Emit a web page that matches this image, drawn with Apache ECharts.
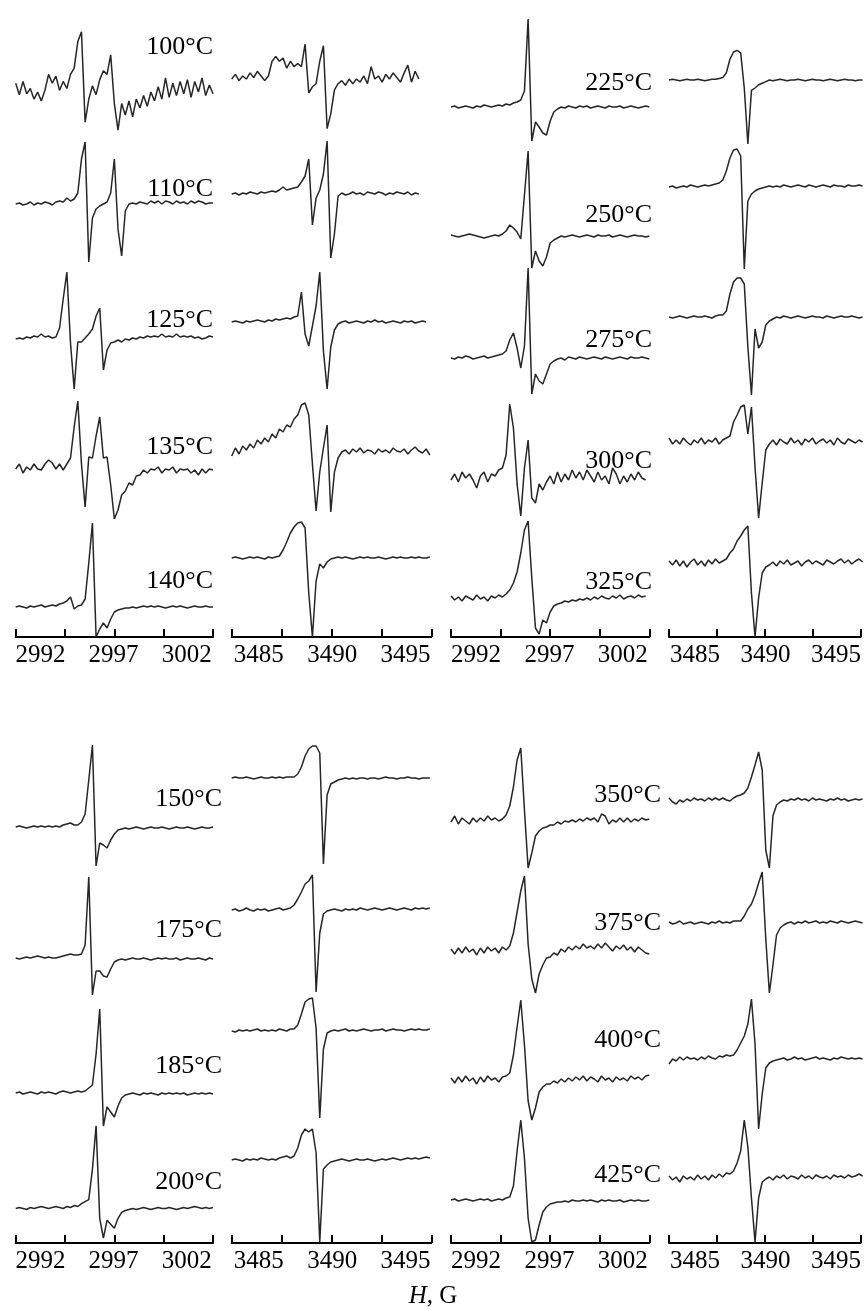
<!DOCTYPE html>
<html>
<head>
<meta charset="utf-8">
<script src="https://cdn.jsdelivr.net/npm/echarts@6/dist/echarts.min.js"></script>
<style>
  html, body { margin: 0; background: #fff; }
  #chart { width: 864px; height: 1307px; }
</style>
</head>
<body>
<div id="chart"></div>
<script>
// field ranges (G) and tick labels
const lowField = [2990.3, 3003.8]
const highField = [3483.15, 3496.75]
const fieldStep = 0.25
const lowTicks = [2992, 2997, 3002]
const highTicks = [3485, 3490, 3495]

// temperature labels
const tempsTopA = ['100°C', '110°C', '125°C', '135°C', '140°C']
const tempsTopB = ['225°C', '250°C', '275°C', '300°C', '325°C']
const tempsBotA = ['150°C', '175°C', '185°C', '200°C']
const tempsBotB = ['350°C', '375°C', '400°C', '425°C']

// EPR signals, sampled every 0.25 G from the left end of each field range
// low field, 100-140 °C
const s100a = [6,-7,8,-6,0,-12,-4,-14,-2,16,6,14,-2,8,0,16,23,53,64,-38,-12,3,-7,10,20,16,38,-17,-47,-17,-30,-14,-32,-12,-22,-8,-20,-4,-14,2,-12,12,-10,6,-8,8,-6,10,-10,8,-4,12,-8,4,-6]
const s110a = [0,1,-1,0,2,-1,1,0,2,1,-1,2,3,2,6,3,5,11,45,62,-58,-14,-5,-2,0,2,11,45,-25,-52,-7,0,1,0,2,1,0,3,1,3,0,3,2,0,3,1,2,0,3,1,3,2,0,1,1]
const s125a = [-1,0,-1,1,0,2,1,4,1,2,0,1,10,39,66,-5,-51,-4,-4,0,4,9,22,30,-32,-12,-5,-4,-2,-4,-1,-2,0,-1,1,0,2,1,2,1,4,1,2,1,4,1,2,1,2,0,1,-1,0,2,1]
const s135a = [0,5,-4,2,-1,5,0,-1,5,9,6,0,5,-1,5,11,42,68,5,-38,12,11,33,52,11,12,-16,-50,-41,-26,-22,-14,-16,-7,-6,-1,-4,0,-1,2,-4,0,-1,2,-4,0,-1,0,-4,-1,-6,0,-4,0,-1]
const s140a = [0,1,0,-1,1,0,1,2,0,1,2,1,3,4,6,10,-2,1,2,8,44,84,-30,-22,-16,-21,-12,-5,-3,-2,-1,-1,0,-1,0,1,0,1,0,1,0,-1,0,1,0,1,0,-1,0,1,0,0,1,0,0]
// high field, 100-140 °C
const s100b = [-2,4,-4,2,-2,6,0,8,2,-4,2,21,27,21,25,12,21,14,18,14,43,-20,-12,-8,21,41,-66,-47,-16,-8,-4,-10,-2,-8,-2,-6,2,-8,14,-2,2,-6,4,-2,6,0,-6,6,16,-6,8,-2]
const s110b = [0,1,-1,1,0,2,1,0,2,1,2,3,2,4,7,4,5,6,7,12,18,35,-31,-4,4,20,53,-64,-40,-2,1,-1,0,2,0,1,-1,2,1,0,2,1,-1,1,0,2,1,0,2,-1,1,0]
const s125b = [0,1,0,-1,1,0,1,2,1,0,2,1,3,2,3,4,3,5,6,30,-12,-24,-4,16,50,-29,-67,-25,-8,-2,0,1,-1,0,1,0,-1,1,0,2,0,1,-1,0,1,0,-1,1,0,1,-1,0,1,0]
const s135b = [-4,4,-2,6,2,8,4,12,8,14,10,18,14,23,20,27,25,33,37,47,49,37,-12,-59,-20,4,27,-60,-20,-6,0,2,-2,3,0,4,-1,2,1,-2,3,0,2,-1,4,1,0,3,-2,2,5,1,-1,3,-3]
const s140b = [0,1,0,-1,0,1,0,1,0,-1,1,0,1,2,8,16,25,31,35,36,30,-35,-79,-23,-6,-10,-4,-1,0,1,0,1,0,-1,0,1,0,1,0,0,1,0,-1,0,1,0,1,0,0,1,0,1,0,0,1]
// low field, 225-325 °C
const s225c = [0,1,-1,0,1,0,-1,1,0,2,1,0,1,2,1,3,2,4,5,7,16,88,-34,-15,-20,-26,-28,-14,-5,-2,0,-1,1,0,-1,1,0,1,-1,0,1,0,-1,1,0,0,1,-1,0,1,0,-1,0,1,0]
const s250c = [1,0,-1,0,1,2,1,0,-1,-2,-1,0,1,0,2,5,11,8,4,-3,41,85,-32,-15,-25,-30,-21,-7,-4,-2,0,-1,0,1,0,-1,0,1,0,-1,1,0,0,1,-1,0,1,0,-1,0,1,0,0,-1,0]
const s275c = [0,-1,1,0,2,1,-1,0,1,2,0,1,2,3,4,7,18,25,10,-10,12,90,-36,-16,-23,-26,-16,-6,-3,-1,0,-2,1,0,-1,1,0,-1,0,1,0,-1,1,0,-1,0,1,0,-1,1,0,0,1,0,-1]
const s300c = [-2,4,-4,6,0,4,-2,-10,2,6,-4,4,2,8,10,23,74,50,-6,-38,10,38,-20,-25,-6,-12,-4,2,-6,6,-4,4,-2,8,0,6,-2,8,2,-4,6,-2,2,-6,10,4,-6,2,-4,4,-2,6,0,-2]
const s325c = [2,-2,1,-3,2,0,-2,3,-1,1,-3,2,0,3,1,4,8,15,26,45,68,77,20,-30,-36,-22,-25,-14,-8,-6,-5,-3,-4,-2,-3,-1,-2,0,-2,1,-1,2,0,-1,2,0,3,-1,1,2,0,3,1,2]
// high field, 225-325 °C
const s225d = [0,1,0,-1,0,1,0,0,1,0,-1,0,1,1,2,3,9,26,35,37,34,-10,-80,-13,-10,-6,-4,-2,0,-1,0,1,0,-1,0,0,1,0,-1,0,1,0,0,-1,0,1,0,-1,0,1,0,0,-1,0,0]
const s250d = [0,1,-1,0,1,0,2,1,0,1,2,1,2,3,4,7,16,29,37,38,31,-82,-14,-7,-4,-2,-1,0,1,0,1,0,2,1,0,1,2,1,0,2,1,0,1,2,1,0,2,1,1,0,2,1,1,2,1]
const s275d = [0,-1,0,1,0,-1,0,1,0,0,1,0,-1,1,2,2,6,23,35,39,39,33,-30,-78,-12,-31,-25,-8,-4,-2,0,-1,1,0,-1,0,1,0,-1,0,1,0,0,-1,1,0,-1,0,1,0,0,1,0,-1,0]
const s300d = [4,-2,2,-2,4,0,-3,2,-1,4,-2,2,0,4,-2,2,4,6,20,27,35,37,8,35,-25,-76,-41,-8,-2,2,-3,3,0,-2,4,-1,2,-3,3,0,4,-2,1,3,-1,2,-3,4,0,-2,3,1,-1,2,0]
const s325d = [2,-2,3,-3,2,-4,1,4,-2,2,-3,3,-1,4,0,2,4,10,14,22,27,33,37,-30,-74,-35,-10,-4,-2,1,-3,2,-1,3,-2,0,2,-3,1,3,-1,2,0,-2,3,1,-1,2,4,0,3,-1,2,4,1]
// low field, 150-200 °C
const s150a = [0,1,0,-1,0,1,0,1,0,1,0,1,0,2,3,4,2,2,5,13,47,82,-39,-16,-18,-21,-13,-7,-3,-2,-1,-2,-1,0,-1,-2,-1,0,-1,-1,0,-1,-2,-1,0,-1,-1,0,-1,-2,-1,0,-1,-1,0]
const s175a = [0,-1,0,1,0,1,2,1,0,1,0,0,1,2,3,4,3,3,4,13,81,-37,-13,-13,-18,-19,-11,-4,-2,-1,-2,-1,0,-1,-1,0,-1,-2,-1,0,-1,0,-1,-1,0,-2,-1,0,-1,-1,0,-1,-2,0,-1]
const s185a = [0,1,-1,0,1,0,-1,1,0,1,0,-1,1,2,1,0,1,2,1,2,5,8,39,84,-33,-14,-19,-24,-13,-5,-2,-1,0,-1,-2,0,-1,0,-1,-2,0,-1,0,-1,0,-1,0,-2,-1,0,-1,0,-1,0,-1]
const s200a = [0,1,0,-1,1,0,1,2,1,0,1,2,1,0,2,1,3,2,5,7,9,40,84,-10,-30,-12,-16,-20,-10,-4,-2,-1,0,-1,0,1,0,-1,0,1,0,0,1,0,-1,0,1,0,1,2,1,0,1,0,1]
// high field, 150-200 °C
const s150b = [0,1,0,0,1,0,-1,0,1,0,0,1,0,1,0,1,1,1,4,11,22,29,32,32,25,-86,-17,-6,-4,-2,-1,0,-1,0,-1,0,0,-1,0,0,-1,0,1,0,0,-1,0,0,1,0,0,-1,0,0,0]
const s175b = [0,1,-1,0,2,0,-1,1,0,1,-1,0,1,2,0,1,2,5,11,18,26,29,35,-82,-23,-4,-1,0,1,0,-1,1,0,1,0,2,1,0,1,2,1,0,1,2,1,0,1,2,1,0,2,1,2,1,2]
const s185b = [0,-1,1,0,1,0,1,2,0,1,0,1,0,2,1,0,2,2,6,17,29,32,33,3,-87,-18,-2,0,1,0,1,2,0,1,0,1,2,1,0,1,1,2,0,1,2,1,1,0,1,2,1,2,1,1,2]
const s200b = [0,1,0,-1,1,0,1,0,2,1,0,1,0,2,3,4,2,4,12,25,31,28,31,7,-82,-9,-5,-2,-1,0,1,0,-1,0,1,0,0,1,0,-1,0,1,0,1,2,1,0,1,2,1,2,1,2,3,2]
// low field, 350-425 °C
const s350c = [-2,4,-4,2,-1,-4,2,-2,2,-1,4,0,2,-1,1,5,14,33,60,72,10,-48,-33,-16,-11,-8,-7,-5,-5,-2,-4,-1,-2,0,-2,1,-1,2,0,2,-2,6,4,-4,0,-2,2,-2,2,-2,1,-1,2,0,1]
const s375c = [2,-3,3,-2,4,-1,2,-4,3,-2,4,0,3,-2,4,1,5,18,39,60,75,7,-28,-42,-23,-14,-7,-6,-2,-4,2,-1,4,1,5,2,7,3,5,2,7,3,8,4,0,5,2,6,1,4,-1,4,1,-2,-3]
const s400c = [2,-3,3,-2,4,-1,2,-4,3,-2,4,0,2,-2,3,4,7,25,53,80,35,-21,-40,-28,-12,-7,-4,-4,-1,-3,1,-2,2,-1,3,0,4,-1,3,1,-2,4,0,2,-2,3,0,2,-1,4,1,3,0,4,5]
const s425c = [0,1,-1,0,1,0,-1,0,1,0,1,-1,0,1,0,2,3,14,49,80,42,-18,-42,-40,-25,-12,-7,-4,-3,-2,-2,-1,-2,0,-1,-1,0,-1,0,-1,-2,0,-1,0,-1,-1,0,-2,-1,0,-1,0,-1,-1,0]
// high field, 350-425 °C
const s350d = [2,-2,-4,0,-2,1,-1,2,0,1,-1,2,0,2,0,2,0,-1,2,4,5,7,12,23,35,48,30,-50,-68,-16,-5,-2,0,-1,1,0,2,0,1,-1,2,0,1,0,-1,1,0,2,0,1,-1,0,1,0,1]
const s375d = [1,-1,0,2,-1,0,1,-1,0,1,0,-1,1,0,2,0,1,0,2,2,2,7,14,19,28,40,51,-16,-70,-42,-12,-5,-2,0,1,-1,1,0,2,0,1,2,0,1,0,2,1,0,2,1,0,1,2,1,0]
const s400d = [-5,0,-2,2,-1,2,0,1,-1,2,0,3,1,0,3,2,4,3,4,9,16,23,35,60,15,-70,-35,-9,-4,-2,-1,0,1,-1,0,2,0,1,-1,0,1,2,0,1,0,-1,1,0,2,1,0,1,0,1,0]
const s425d = [2,-2,1,-4,2,-1,1,-2,3,-1,2,-2,3,0,4,1,5,4,7,15,27,58,31,-20,-64,-20,-4,-1,1,-2,2,0,3,-1,2,1,-1,3,0,2,-1,3,1,0,2,-1,3,1,2,0,3,1,2,4,2]

// layout (px); the last column runs past the right edge of the page
const colLeft = [15.7, 231.7, 451, 669]
const colRight = [651, 432.7, 214.7, -2.5]
const axisY = [637, 1243]
const topBase = [[77, 204, 338, 469, 607], [55, 194, 322, 452, 558], [107, 236, 358, 478, 598], [60, 187, 317, 442, 563]]
const botBase = [[827, 958, 1093, 1210], [778, 910, 1031, 1160], [820, 951, 1080, 1200], [800, 923, 1059, 1178]]
const lineColor = '#262626'
const serif = '"Liberation Serif", "Times New Roman", serif'

const topCols = [
  [s100a, s110a, s125a, s135a, s140a],
  [s100b, s110b, s125b, s135b, s140b],
  [s225c, s250c, s275c, s300c, s325c],
  [s225d, s250d, s275d, s300d, s325d]
]
const botCols = [
  [s150a, s175a, s185a, s200a],
  [s150b, s175b, s185b, s200b],
  [s350c, s375c, s400c, s425c],
  [s350d, s375d, s400d, s425d]
]

const grids = []
const xAxes = []
const yAxes = []
const series = []

function fieldOf(col) {
  return col % 2 === 0 ? lowField : highField
}

// one grid per spectrum
function addTrace(values, col, base) {
  const idx = grids.length
  const range = fieldOf(col)
  grids.push({ left: colLeft[col], right: colRight[col], top: base - 100, height: 200 })
  xAxes.push({ type: 'value', gridIndex: idx, min: range[0], max: range[1], show: false })
  yAxes.push({ type: 'value', gridIndex: idx, min: -100, max: 100, show: false })
  const data = []
  values.forEach((v, i) => {
    if (v !== null) data.push([range[0] + i * fieldStep, v])
  })
  series.push({
    type: 'line',
    xAxisIndex: idx,
    yAxisIndex: idx,
    data: data,
    symbol: 'none',
    silent: true,
    lineStyle: { color: lineColor, width: 1.5 }
  })
}

// field axis under each column
function addAxis(col, y) {
  const idx = grids.length
  const range = fieldOf(col)
  const ticks = []
  for (let k = 0; k <= 4; k++) ticks.push(range[0] + k * (range[1] - range[0]) / 4)
  grids.push({ left: colLeft[col], right: colRight[col], top: y - 40, height: 40 })
  xAxes.push({
    type: 'value',
    gridIndex: idx,
    min: range[0],
    max: range[1],
    position: 'bottom',
    axisLine: { show: true, onZero: false, lineStyle: { color: '#000', width: 2 } },
    axisTick: { show: true, inside: true, length: 8, customValues: ticks, lineStyle: { color: '#000', width: 2 } },
    axisLabel: {
      customValues: col % 2 === 0 ? lowTicks : highTicks,
      formatter: v => String(Math.round(v)),
      margin: 6,
      color: '#000',
      fontFamily: serif,
      fontSize: 25
    },
    splitLine: { show: false }
  })
  yAxes.push({ type: 'value', gridIndex: idx, min: 0, max: 1, show: false })
  series.push({ type: 'line', xAxisIndex: idx, yAxisIndex: idx, data: [], silent: true })
}

topCols.forEach((traces, c) => {
  traces.forEach((t, r) => addTrace(t, c, topBase[c][r]))
  addAxis(c, axisY[0])
})
botCols.forEach((traces, c) => {
  traces.forEach((t, r) => addTrace(t, c, botBase[c][r]))
  addAxis(c, axisY[1])
})

// temperature labels
const graphics = []
function addLabels(texts, right, ys) {
  texts.forEach((t, i) => {
    graphics.push({
      type: 'text',
      x: right,
      y: ys[i],
      silent: true,
      style: {
        text: t,
        font: '26px ' + serif,
        fill: '#000',
        align: 'right',
        verticalAlign: 'middle',
        textAlign: 'right',
        textVerticalAlign: 'middle'
      }
    })
  })
}
addLabels(tempsTopA, 213, [47, 189, 320, 447, 581])
addLabels(tempsTopB, 652, [83, 215, 340, 461, 582])
addLabels(tempsBotA, 222, [799, 930, 1066, 1182])
addLabels(tempsBotB, 661, [795, 923, 1040, 1175])

graphics.push({
  type: 'text',
  x: 433,
  y: 1296,
  silent: true,
  style: {
    text: '{i|H}, G',
    font: '25px ' + serif,
    fill: '#000',
    align: 'center',
    verticalAlign: 'middle',
    textAlign: 'center',
    textVerticalAlign: 'middle',
    rich: { i: { fontStyle: 'italic', fontFamily: serif, fontSize: 25, color: '#000' } }
  }
})

const chart = echarts.init(document.getElementById('chart'), null, { renderer: 'canvas' })
chart.setOption({
  animation: false,
  backgroundColor: '#fff',
  grid: grids,
  xAxis: xAxes,
  yAxis: yAxes,
  series: series,
  graphic: graphics
})
</script>
</body>
</html>
